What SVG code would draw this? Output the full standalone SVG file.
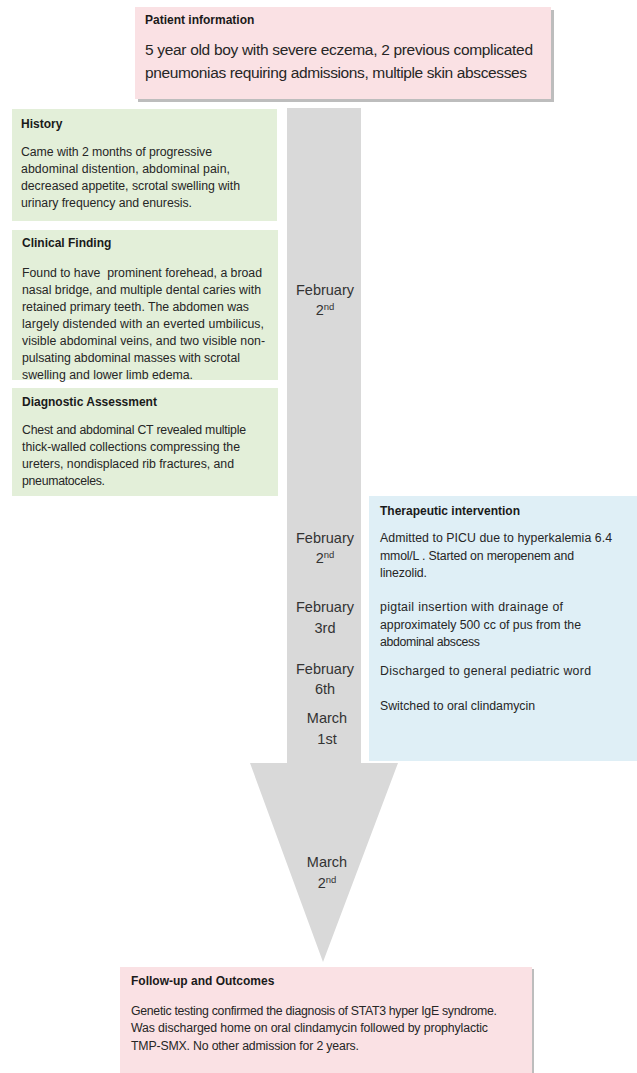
<svg xmlns="http://www.w3.org/2000/svg" width="637" height="1073" viewBox="0 0 637 1073">
<defs>
<style>
text{font-family:"Liberation Sans",Arial,sans-serif;fill:#262626}
.t{font-size:12px;font-weight:bold;fill:#1a1a1a}
.b{font-size:12.3px}
.big{font-size:15.5px}
.d{font-size:14.5px;text-anchor:middle;fill:#333}
.sup{font-size:9.5px}
.pink{fill:#fae1e4}
.green{fill:#e3efd9}
.blue{fill:#dfeff6}
.shadow{fill:#bdbdbd}
</style>
</defs>
<g id="connectors">
<path d="M287,108 H361 V763 H398 L323,962 L250,763 H287 Z" fill="#d9d9d9"/>
</g>
<g id="patient">
<rect class="shadow" x="138" y="10" width="416" height="92"/>
<rect class="pink" x="135" y="7" width="416" height="92"/>
<text class="t" x="145" y="24">Patient information</text>
<text class="big" x="145" y="55" textLength="388">5 year old boy with severe eczema, 2 previous complicated</text>
<text class="big" x="145" y="78" textLength="382">pneumonias requiring admissions, multiple skin abscesses</text>
</g>
<g id="history">
<rect class="green" x="12" y="109" width="265" height="112"/>
<text class="t" x="21" y="128">History</text>
<text class="b" x="21" y="156" textLength="191">Came with 2 months of progressive</text>
<text class="b" x="21" y="173" textLength="209">abdominal distention, abdominal pain,</text>
<text class="b" x="21" y="190" textLength="219">decreased appetite, scrotal swelling with</text>
<text class="b" x="21" y="207" textLength="171">urinary frequency and enuresis.</text>
</g>
<g id="clinical">
<rect class="green" x="12" y="230" width="266" height="150"/>
<text class="t" x="22" y="247">Clinical Finding</text>
<text class="b" x="22" y="277" textLength="240" style="white-space:pre">Found to have  prominent forehead, a broad</text>
<text class="b" x="22" y="294" textLength="239">nasal bridge, and multiple dental caries with</text>
<text class="b" x="22" y="311" textLength="227">retained primary teeth. The abdomen was</text>
<text class="b" x="22" y="328" textLength="242">largely distended with an everted umbilicus,</text>
<text class="b" x="22" y="345" textLength="243">visible abdominal veins, and two visible non-</text>
<text class="b" x="22" y="362" textLength="218">pulsating abdominal masses with scrotal</text>
<text class="b" x="22" y="379" textLength="171">swelling and lower limb edema.</text>
</g>
<g id="diagnostic">
<rect class="green" x="12" y="388" width="266" height="108"/>
<text class="t" x="22" y="406">Diagnostic Assessment</text>
<text class="b" x="22" y="434" textLength="224">Chest and abdominal CT revealed multiple</text>
<text class="b" x="22" y="451" textLength="218">thick-walled collections compressing the</text>
<text class="b" x="22" y="468" textLength="212">ureters, nondisplaced rib fractures, and</text>
<text class="b" x="22" y="485" textLength="83">pneumatoceles.</text>
</g>
<g id="therapeutic">
<rect class="blue" x="369" y="496" width="268" height="265"/>
<text class="t" x="380" y="515">Therapeutic intervention</text>
<text class="b" x="380" y="542" textLength="232">Admitted to PICU due to hyperkalemia 6.4</text>
<text class="b" x="380" y="560" textLength="194">mmol/L . Started on meropenem and</text>
<text class="b" x="380" y="577" textLength="47">linezolid.</text>
<text class="b" x="380" y="611" textLength="183">pigtail insertion with drainage of</text>
<text class="b" x="380" y="629" textLength="201">approximately 500 cc of pus from the</text>
<text class="b" x="380" y="646" textLength="100">abdominal abscess</text>
<text class="b" x="380" y="675" textLength="211">Discharged to general pediatric word</text>
<text class="b" x="380" y="710" textLength="155">Switched to oral clindamycin</text>
</g>
<g id="dates">
<text class="d" x="325" y="295">February</text>
<text class="d" x="325" y="315">2<tspan class="sup" dy="-5">nd</tspan></text>
<text class="d" x="325" y="543">February</text>
<text class="d" x="325" y="563">2<tspan class="sup" dy="-5">nd</tspan></text>
<text class="d" x="325" y="612">February</text>
<text class="d" x="325" y="633">3rd</text>
<text class="d" x="325" y="674">February</text>
<text class="d" x="325" y="694">6th</text>
<text class="d" x="327" y="723">March</text>
<text class="d" x="327" y="744">1st</text>
<text class="d" x="327" y="867">March</text>
<text class="d" x="327" y="888">2<tspan class="sup" dy="-5">nd</tspan></text>
</g>
<g id="followup">
<rect class="shadow" x="122" y="969" width="412" height="104"/>
<rect class="pink" x="120" y="967" width="412" height="106"/>
<text class="t" x="131" y="985">Follow-up and Outcomes</text>
<text class="b" x="131" y="1015" textLength="366">Genetic testing confirmed the diagnosis of STAT3 hyper IgE syndrome.</text>
<text class="b" x="131" y="1032" textLength="357">Was discharged home on oral clindamycin followed by prophylactic</text>
<text class="b" x="131" y="1050" textLength="228">TMP-SMX. No other admission for 2 years.</text>
</g>
</svg>
